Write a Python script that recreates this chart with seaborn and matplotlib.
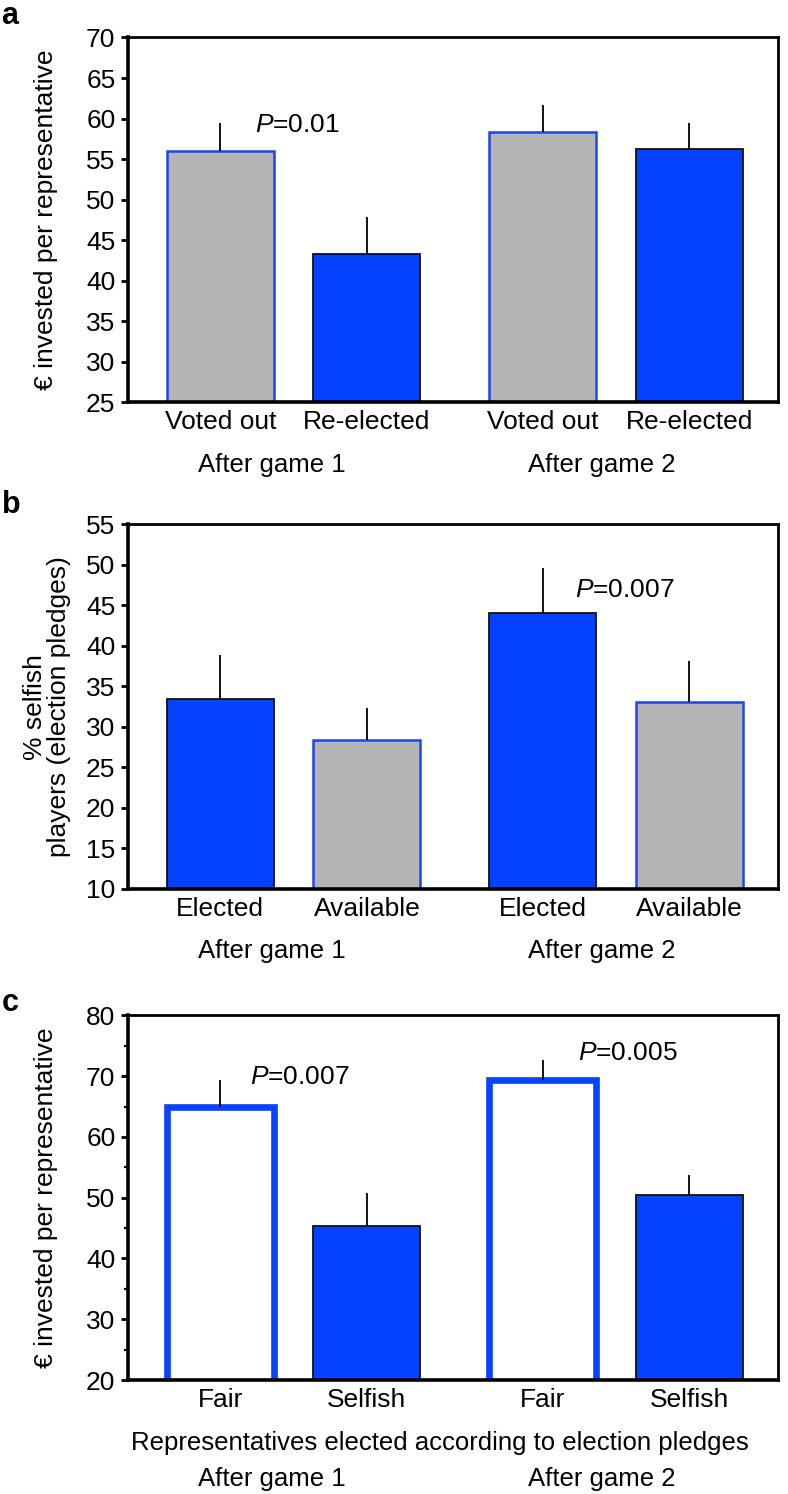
import matplotlib
matplotlib.use('Agg')
import matplotlib.pyplot as plt
from matplotlib.ticker import MultipleLocator
import seaborn as sns
import numpy as np
import pandas as pd

# ---------------- data ----------------
a_labels = ['Voted out', 'Re-elected', 'Voted out', 'Re-elected']
a_values = [56.0, 43.3, 58.3, 56.2]
a_errors = [3.4, 4.6, 3.4, 3.2]
a_kinds = ['gray', 'blue', 'gray', 'blue']

b_labels = ['Elected', 'Available', 'Elected', 'Available']
b_values = [33.4, 28.4, 44.1, 33.1]
b_errors = [5.5, 3.9, 5.5, 5.0]
b_kinds = ['blue', 'gray', 'blue', 'gray']

c_labels = ['Fair', 'Selfish', 'Fair', 'Selfish']
c_values = [64.9, 45.4, 69.4, 50.4]
c_errors = [4.4, 5.3, 3.2, 3.3]
c_kinds = ['open', 'blue', 'open', 'blue']

group_labels = ['After game 1', 'After game 2']
c_subtitle = 'Representatives elected according to election pledges'

# ---------------- layout / style ----------------
positions = [0.0, 1.0, 2.2, 3.2]
group_x = [0.35, 2.6]
STYLE = {
    'gray': dict(fc='#b4b4b4', ec='#1d44f0', lw=1.8),
    'blue': dict(fc='#0442ff', ec='#111111', lw=1.3),
    'open': dict(fc='white', ec='#0a43ff', lw=4.8),
}
FS = 19
FS_GROUP = 18.5

sns.set_theme(style='ticks')
plt.rcParams['font.family'] = ['Liberation Sans', 'DejaVu Sans']
plt.rcParams['mathtext.fontset'] = 'custom'
plt.rcParams['mathtext.rm'] = 'Liberation Sans'
plt.rcParams['mathtext.it'] = 'Liberation Sans:italic'
for key in ['text.color', 'axes.labelcolor', 'xtick.color', 'ytick.color',
            'axes.edgecolor']:
    plt.rcParams[key] = 'black'

fig = plt.figure(figsize=(7.88, 14.94), dpi=100)
L, W, H = 0.1624, 0.825, 0.2440
ax_a = fig.add_axes([L, 0.7309, W, H])
ax_b = fig.add_axes([L, 0.4050, W, H])
ax_c = fig.add_axes([L, 0.0763, W, H])


def panel(ax, labels, values, errors, kinds, ylim, ystep, ylabel, label_x,
          minor=None):
    df = pd.DataFrame({'pos': positions, 'value': values})
    sns.barplot(data=df, x='pos', y='value', native_scale=True, width=0.73,
                errorbar=None, ax=ax)
    for patch, k in zip(ax.patches, kinds):
        st = STYLE[k]
        patch.set_facecolor(st['fc'])
        patch.set_edgecolor(st['ec'])
        patch.set_linewidth(st['lw'])
    ax.vlines(positions, values, np.add(values, errors), color='black',
              lw=1.3, zorder=3)
    ax.set_xlim(-0.63, 3.805)
    ax.set_ylim(*ylim)
    ax.set_yticks(np.arange(ylim[0], ylim[1] + 0.1, ystep))
    if minor:
        ax.yaxis.set_minor_locator(MultipleLocator(minor))
        ax.tick_params(axis='y', which='minor', length=3, width=1.6,
                       direction='out')
    ax.set_xticks(positions)
    ax.set_xticklabels(labels, fontsize=FS)
    ax.tick_params(axis='x', length=0, pad=6)
    ax.tick_params(axis='y', which='major', labelsize=FS, length=5,
                   width=2, pad=4, direction='out', colors='black')
    ax.set_xlabel('')
    ax.set_ylabel(ylabel, fontsize=FS, color='black', linespacing=1.0)
    ax.yaxis.set_label_coords(label_x, 0.5)
    for side in ['top', 'right']:
        ax.spines[side].set_linewidth(2.0)
        ax.spines[side].set_color('black')
    for side in ['left', 'bottom']:
        ax.spines[side].set_linewidth(2.6)
        ax.spines[side].set_color('black')
        ax.spines[side].set_zorder(5)


panel(ax_a, a_labels, a_values, a_errors, a_kinds, (25, 70), 5,
      '€ invested per representative', -0.108)
panel(ax_b, b_labels, b_values, b_errors, b_kinds, (10, 55), 5,
      '% selfish\nplayers (election pledges)', -0.088)
panel(ax_c, c_labels, c_values, c_errors, c_kinds, (20, 80), 10,
      '€ invested per representative', -0.108, minor=5)

# group labels
for ax in (ax_a, ax_b):
    for gx, g in zip(group_x, group_labels):
        ax.annotate(g, xy=(gx, 0), xycoords=('data', 'axes fraction'),
                    xytext=(0, -45), textcoords='offset points',
                    ha='center', va='center', fontsize=FS_GROUP)
ax_c.annotate(c_subtitle, xy=(1.5, 0), xycoords=('data', 'axes fraction'),
              xytext=(0, -45), textcoords='offset points',
              ha='center', va='center', fontsize=FS_GROUP)
for gx, g in zip(group_x, group_labels):
    ax_c.annotate(g, xy=(gx, 0), xycoords=('data', 'axes fraction'),
                  xytext=(0, -71), textcoords='offset points',
                  ha='center', va='center', fontsize=FS_GROUP)

# P-values
ax_a.text(0.24, 59.25, r'$P$=0.01', fontsize=FS, va='center', ha='left')
ax_b.text(2.42, 46.9, r'$P$=0.007', fontsize=FS, va='center', ha='left')
ax_c.text(0.20, 69.8, r'$P$=0.007', fontsize=FS, va='center', ha='left')
ax_c.text(2.44, 73.9, r'$P$=0.005', fontsize=FS, va='center', ha='left')

# panel letters
for y, letter in [(0.999, 'a'), (0.672, 'b'), (0.339, 'c')]:
    fig.text(0.002, y, letter, fontsize=22, fontweight='bold',
             va='top', ha='left')

fig.savefig('out.png', dpi=100)
